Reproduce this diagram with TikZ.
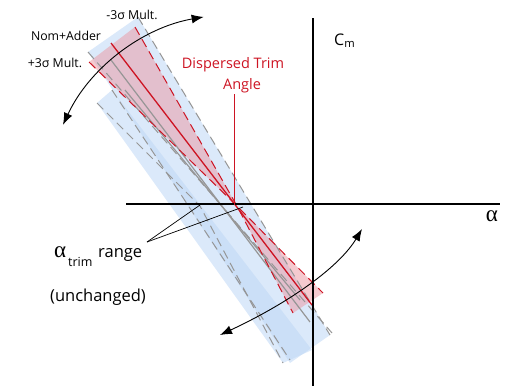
\documentclass[tikz,border=0pt]{standalone}
\usepackage{fontspec}
\setmainfont{Open Sans}
\newfontfamily\grk{Liberation Serif}
\usetikzlibrary{arrows.meta}
\definecolor{bandblue}{RGB}{190,215,245}
\definecolor{bandred}{RGB}{235,150,160}
\definecolor{trimred}{RGB}{205,20,35}
\definecolor{edgegray}{RGB}{150,150,150}
\tikzset{
  axisline/.style={line width=1.3pt, black},
  bluearea/.style={fill=bandblue, fill opacity=0.55},
  redarea/.style={fill=bandred, fill opacity=0.5},
  grayedge/.style={edgegray, line width=1pt, dash pattern=on 9pt off 5pt},
  rededge/.style={trimred, line width=1pt, dash pattern=on 9pt off 5pt},
  graycenter/.style={edgegray, line width=1.2pt},
  redcenter/.style={trimred, line width=1.3pt},
  swing/.style={black, line width=0.9pt, {Latex[length=12pt,width=9pt]}-{Latex[length=12pt,width=9pt]}},
  pointer/.style={black, line width=0.7pt},
  lbl/.style={inner sep=0pt, font=\fontsize{12.3}{14}\selectfont},
  redlbl/.style={inner sep=0pt, text=trimred, font=\fontsize{14.5}{17}\selectfont},
  biglbl/.style={inner sep=0pt, font=\fontsize{16.5}{19}\selectfont},
  greek/.style={inner sep=0pt, font=\grk\fontsize{23}{25}\selectfont}
}
\begin{document}
\begin{tikzpicture}[x=1pt,y=-1pt]
\useasboundingbox (0,0) rectangle (505,386);
% --- blue bands
\fill[bluearea] (88,52) -- (138,17) -- (330,335) -- (290,363) -- cycle;
\fill[bluearea] (97,103) -- (112,90) -- (312,350) -- (283,363) -- cycle;
% --- red bow-tie
\coordinate (pv) at (237,206);
\fill[redarea] (89,62) -- (135,27) -- (pv) -- cycle;
\fill[redarea] (pv) -- (323,293) -- (293,313) -- cycle;
% --- gray dashed edges
\draw[grayedge] (138,17) -- (330,335);
\draw[grayedge] (97,103) -- (200,206) -- (283,363);
\draw[grayedge] (88,52) -- (332,333);
\draw[grayedge] (112,90) -- (290,360);
% --- gray centre lines
\draw[graycenter] (111,60) -- (310,322);
\draw[graycenter] (125,90) -- (300,300);
% --- red edges and centre
\draw[rededge] (89,62) -- (pv) -- (323,293);
\draw[rededge] (135,27) -- (pv) -- (293,313);
\draw[redcenter] (111,43) -- (312,305);
% --- axes
\draw[axisline] (126,204) -- (500,204);
\draw[axisline] (313,18) -- (313,386);
\node[anchor=base west, inner sep=0pt] (cm) at (334,45) {\fontsize{16}{18}\selectfont C\textsubscript{m}};
\node[greek, anchor=base] (al) at (492,221) {α};
% --- dispersed trim angle
\node[redlbl, anchor=base] (dta1) at (233,68) {Dispersed Trim};
\node[redlbl, anchor=base] (dta2) at (242,89) {Angle};
\coordinate (dtaend) at (234,205);
\draw[trimred, line width=0.8pt] (234,94) -- (dtaend);
% --- swing arrows
\draw[swing] (pv) ++(205:192) arc[start angle=205, end angle=260, radius=192];
\draw[swing] (220,335) .. controls (292.7,301) and (340,265.7) .. (362,229);
% --- band labels
\node[lbl, anchor=base] (m3) at (132,19) {-3σ Mult.};
\node[lbl, anchor=base] (nom) at (66,40) {Nom+Adder};
\node[lbl, anchor=base] (p3) at (55,67) {+3σ Mult.};
% --- trim range
\node[greek, anchor=base west] (tra) at (54,257) {α};
\node[anchor=base west, inner sep=0pt] (trs) at (68,266) {\fontsize{12.5}{14}\selectfont trim};
\node[biglbl, anchor=base west] (trr) at (98,257) {range};
\node[biglbl, anchor=base] (un) at (98,301) {(unchanged)};
\coordinate (trA) at (200,205);
\coordinate (trB) at (243,207);
\coordinate (trP) at (147,242);
\draw[pointer] (trP) -- (trA);
\draw[pointer] (trP) -- (trB);
\end{tikzpicture}
\end{document}
